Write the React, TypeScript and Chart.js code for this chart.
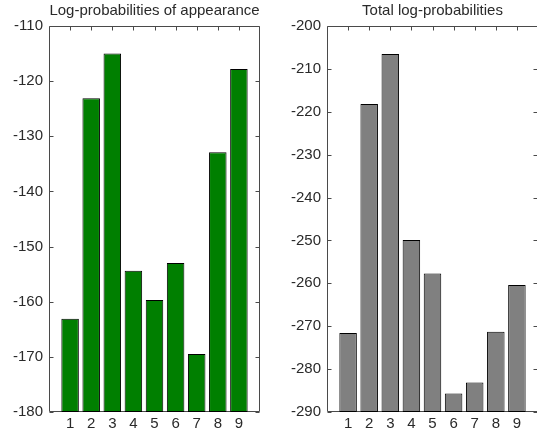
import { useEffect, useRef } from "react";
import { Chart, registerables } from "chart.js";

Chart.register(...registerables);

// Sample indices along the horizontal axis
const categories = [1, 2, 3, 4, 5, 6, 7, 8, 9];

// Log-probability of appearance per sample
const appearanceLogProb = [-163.1, -123.1, -115.0, -154.4, -159.7, -153.0, -169.5, -132.9, -117.8];

// Total log-probability per sample
const totalLogProb = [-271.6, -218.2, -206.5, -249.9, -257.7, -285.7, -283.1, -271.3, -260.4];

// Value-axis ranges and tick spacing
const appearanceRange = [-180, -110];
const totalRange = [-290, -200];
const valueStep = 10;
const indexRange = [0, 10];

const FONT = "'Liberation Sans', Arial, Helvetica, sans-serif";
const TEXT = "#2a2a2a";
const AXIS = "#4a4a4a";
const TICK_LEN = 4;

// Closed axes box with inward-pointing ticks on all four sides
const framePlugin = {
  id: "frame",
  beforeDatasetsDraw(chart: any) {
    const { ctx, chartArea: a, scales } = chart;
    const L = Math.round(a.left) + 0.5;
    const R = Math.round(a.right) - 0.5;
    const T = Math.round(a.top) + 0.5;
    const B = Math.round(a.bottom) - 0.5;
    ctx.save();
    ctx.strokeStyle = AXIS;
    ctx.lineWidth = 1;
    ctx.beginPath();
    ctx.rect(L, T, R - L, B - T);
    for (const t of scales.y.ticks) {
      const y = Math.round(scales.y.getPixelForValue(t.value)) + 0.5;
      ctx.moveTo(L, y);
      ctx.lineTo(L + TICK_LEN, y);
      ctx.moveTo(R, y);
      ctx.lineTo(R - TICK_LEN, y);
    }
    for (const c of categories) {
      const x = Math.round(scales.x.getPixelForValue(c)) + 0.5;
      ctx.moveTo(x, T);
      ctx.lineTo(x, T + TICK_LEN);
      ctx.moveTo(x, B);
      ctx.lineTo(x, B - TICK_LEN);
    }
    ctx.stroke();
    ctx.restore();
  },
};

type PanelProps = {
  title: string;
  values: number[];
  range: number[];
  fill: string;
  left: number;
  width: number;
  axisWidth: number;
  padRight: number;
};

function Panel({ title, values, range, fill, left, width, axisWidth, padRight }: PanelProps) {
  const ref = useRef<HTMLCanvasElement | null>(null);

  useEffect(() => {
    if (!ref.current) return;
    const chart = new Chart(ref.current, {
      type: "bar",
      data: {
        datasets: [
          {
            data: categories.map((c, i) => ({ x: c, y: values[i] })),
            backgroundColor: fill,
            borderColor: "#000000",
            borderWidth: 1,
            borderSkipped: false,
            inflateAmount: 0,
            base: range[0],
            categoryPercentage: 1,
            barPercentage: 0.83,
          } as any,
        ],
      },
      options: {
        animation: false,
        responsive: false,
        devicePixelRatio: 1,
        layout: { padding: { left: 0, right: padRight, top: 0, bottom: 0 } },
        plugins: {
          legend: { display: false },
          tooltip: { enabled: false },
          title: {
            display: true,
            text: title,
            fullSize: false,
            color: TEXT,
            font: { family: FONT, size: 15, weight: "normal" },
            padding: { top: 2, bottom: 6 },
          },
        },
        scales: {
          x: {
            type: "linear",
            min: indexRange[0],
            max: indexRange[1],
            offset: false,
            grid: { display: false, drawTicks: false },
            border: { display: false },
            ticks: {
              stepSize: 1,
              autoSkip: false,
              maxRotation: 0,
              padding: 3,
              color: TEXT,
              font: { family: FONT, size: 15 },
              callback: (v: any) => (categories.includes(Number(v)) ? String(v) : ""),
            },
            afterFit: (s: any) => {
              s.height = 22;
            },
          },
          y: {
            type: "linear",
            min: range[0],
            max: range[1],
            grid: { display: false, drawTicks: false },
            border: { display: false },
            ticks: {
              stepSize: valueStep,
              padding: 6,
              color: TEXT,
              font: { family: FONT, size: 15 },
            },
            afterFit: (s: any) => {
              s.width = axisWidth;
            },
          },
        },
      },
      plugins: [framePlugin],
    });
    return () => chart.destroy();
  }, [title, values, range, fill, axisWidth, padRight]);

  return (
    <canvas
      ref={ref}
      width={width}
      height={434}
      style={{ position: "absolute", left, top: 0, width, height: 434, display: "block" }}
    />
  );
}

export default function App() {
  return (
    <div
      style={{
        position: "fixed",
        left: 0,
        top: 0,
        width: 537,
        height: 434,
        overflow: "hidden",
        background: "#ffffff",
      }}
    >
      <Panel
        title="Log-probabilities of appearance"
        values={appearanceLogProb}
        range={appearanceRange}
        fill="#007f00"
        left={0}
        width={268}
        axisWidth={49}
        padRight={8}
      />
      <Panel
        title="Total log-probabilities"
        values={totalLogProb}
        range={totalRange}
        fill="#808080"
        left={268}
        width={275}
        axisWidth={59}
        padRight={5}
      />
    </div>
  );
}
